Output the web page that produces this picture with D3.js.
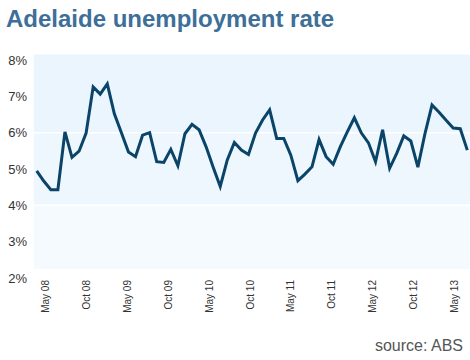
<!DOCTYPE html>
<html>
<head>
<meta charset="utf-8">
<script src="https://cdn.jsdelivr.net/npm/d3@7"></script>
<style>
  html, body { margin: 0; padding: 0; background: #ffffff; }
  svg { display: block; }
</style>
</head>
<body>
<svg id="chart" width="470" height="360"></svg>
<script>
const months = ["Apr 08","May 08","Jun 08","Jul 08","Aug 08","Sep 08","Oct 08","Nov 08","Dec 08",
  "Jan 09","Feb 09","Mar 09","Apr 09","May 09","Jun 09","Jul 09","Aug 09","Sep 09","Oct 09","Nov 09","Dec 09",
  "Jan 10","Feb 10","Mar 10","Apr 10","May 10","Jun 10","Jul 10","Aug 10","Sep 10","Oct 10","Nov 10","Dec 10",
  "Jan 11","Feb 11","Mar 11","Apr 11","May 11","Jun 11","Jul 11","Aug 11","Sep 11","Oct 11","Nov 11","Dec 11",
  "Jan 12","Feb 12","Mar 12","Apr 12","May 12","Jun 12","Jul 12","Aug 12","Sep 12","Oct 12","Nov 12","Dec 12",
  "Jan 13","Feb 13","Mar 13","Apr 13","May 13"];
const rates = [4.95,4.67,4.43,4.43,6.02,5.32,5.49,5.99,7.26,7.06,7.34,6.52,6.0,5.47,5.34,5.93,6.0,5.2,5.18,5.54,
  5.09,5.97,6.23,6.08,5.61,5.05,4.52,5.25,5.73,5.52,5.4,5.99,6.35,6.63,5.84,5.84,5.38,4.68,4.86,5.06,
  5.81,5.34,5.13,5.61,6.02,6.41,5.99,5.72,5.2,6.08,5.02,5.43,5.91,5.77,5.05,5.97,6.76,6.56,6.34,6.13,6.11,5.52];
const xTickLabels = ["May 08","Oct 08","May 09","Oct 09","May 10","Oct 10","May 11","Oct 11","May 12","Oct 12","May 13"];
const yTicks = [2,3,4,5,6,7,8];
const bands = [[6,8.2],[4,6],[1.75,4]];
const bandColors = ["#eaf5fd","#eff7fe","#f5fafe"];

const svg = d3.select("#chart");
const plotLeft = 33.5, plotRight = 470, plotTop = 54.5, plotBottom = 269;

const y = d3.scaleLinear().domain([2, 8]).range([278, 60]);
const x = d3.scalePoint().domain(months).range([36.7, 467.3]);
const xl = d3.scalePoint().domain(xTickLabels).range([45, 454]);

// title
svg.append("text")
  .attr("x", 6).attr("y", 26.5)
  .attr("font-family", "Liberation Sans, Arial, sans-serif")
  .attr("font-weight", "bold")
  .attr("font-size", 24)
  .attr("fill", "#3d6f98")
  .text("Adelaide unemployment rate");

// background bands
const clip = svg.append("defs").append("clipPath").attr("id", "plotclip")
  .append("rect").attr("x", plotLeft).attr("y", plotTop)
  .attr("width", plotRight - plotLeft).attr("height", plotBottom - plotTop);

const bg = svg.append("g").attr("clip-path", "url(#plotclip)");
bg.selectAll("rect").data(bands).join("rect")
  .attr("x", plotLeft)
  .attr("width", plotRight - plotLeft)
  .attr("y", d => y(d[1]))
  .attr("height", d => y(d[0]) - y(d[1]))
  .attr("fill", (d, i) => bandColors[i]);
bg.selectAll("line").data([4, 6]).join("line")
  .attr("x1", plotLeft).attr("x2", plotRight)
  .attr("y1", d => y(d)).attr("y2", d => y(d))
  .attr("stroke", "#ffffff").attr("stroke-width", 1.5);

// y axis labels
const yAxis = svg.append("g").attr("transform", `translate(27,0)`)
  .call(d3.axisLeft(y).tickValues(yTicks).tickFormat(d => d + "%").tickSize(0).tickPadding(0));
yAxis.select(".domain").remove();
yAxis.selectAll("text")
  .attr("font-family", "Liberation Sans, Arial, sans-serif")
  .attr("font-size", 13)
  .attr("fill", "#333333");

// x axis labels
const xAxis = svg.append("g").attr("transform", `translate(0,280)`)
  .call(d3.axisBottom(xl).tickSize(0).tickPadding(0));
xAxis.select(".domain").remove();
xAxis.selectAll("text")
  .attr("font-family", "Liberation Sans, Arial, sans-serif")
  .attr("font-size", 10)
  .attr("fill", "#333333")
  .attr("transform", "rotate(-90)")
  .attr("text-anchor", "end")
  .attr("x", 0)
  .attr("y", 0)
  .attr("dy", "0.35em");

// line
const line = d3.line().x((d, i) => x(months[i])).y(d => y(d));
svg.append("path")
  .datum(rates)
  .attr("d", line)
  .attr("fill", "none")
  .attr("stroke", "#0a4468")
  .attr("stroke-width", 3)
  .attr("stroke-linejoin", "miter");

// source
svg.append("text")
  .attr("x", 463).attr("y", 351)
  .attr("text-anchor", "end")
  .attr("font-family", "Liberation Sans, Arial, sans-serif")
  .attr("font-size", 16)
  .attr("fill", "#555555")
  .text("source: ABS");
</script>
</body>
</html>
